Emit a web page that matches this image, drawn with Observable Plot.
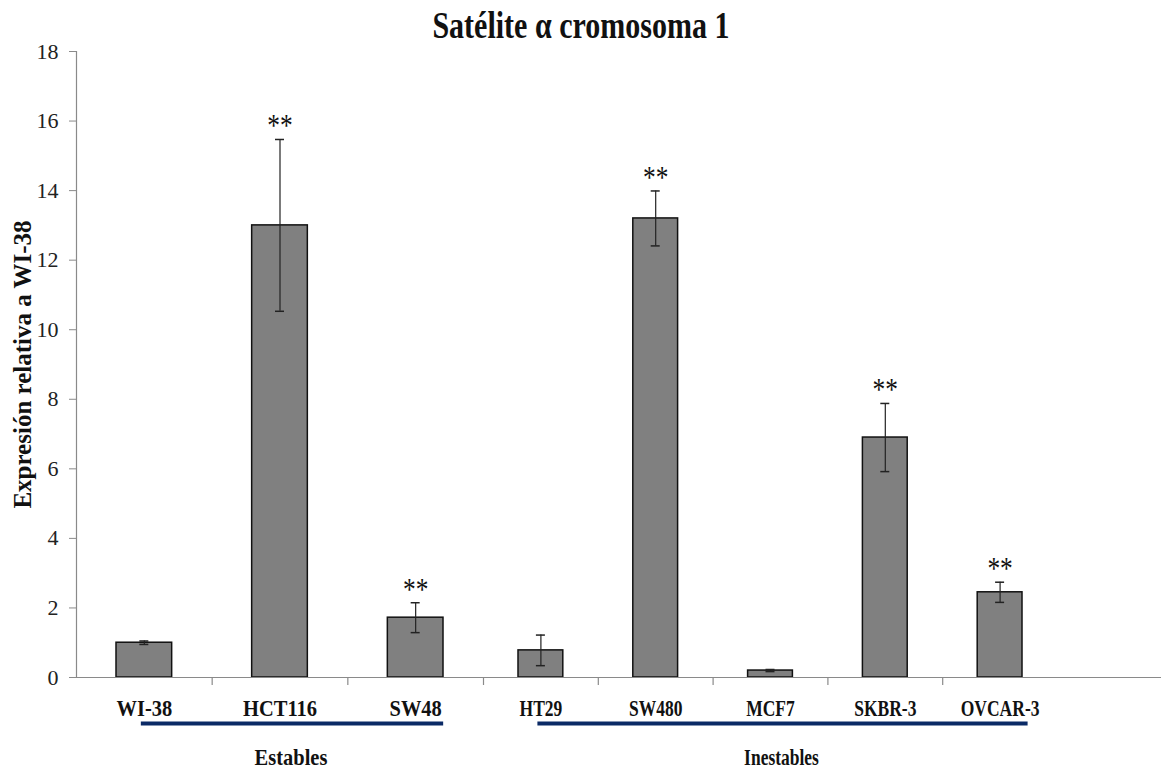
<!DOCTYPE html>
<html><head><meta charset="utf-8">
<script src="https://cdn.jsdelivr.net/npm/d3@7"></script>
<script src="https://cdn.jsdelivr.net/npm/@observablehq/plot@0.6"></script>
<style>body{margin:0;background:#fff} svg{display:block}</style>
</head><body><div id="chart"></div>
<script>
const cellLines = ["WI-38","HCT116","SW48","HT29","SW480","MCF7","SKBR-3","OVCAR-3"];
const cellGroup = ["Estables","Estables","Estables","Inestables","Inestables","Inestables","Inestables","Inestables"];
const expression = [1.0, 13.0, 1.72, 0.78, 13.2, 0.2, 6.9, 2.45];
const errors = [0.05, 2.47, 0.43, 0.44, 0.79, 0.03, 0.98, 0.29];
const significant = [false, true, true, false, true, false, true, true];
const groupNames = ["Estables","Inestables"];
const yTicks = [0,2,4,6,8,10,12,14,16,18];
const title = "Satélite α cromosoma 1";
const yLabel = "Expresión relativa a WI-38";
const starText = "**";

// each cell line occupies one slot [i, i+1] on a positional x scale
const rows = cellLines.map((c,i)=>({line:c, i, group:cellGroup[i], value:expression[i], err:errors[i], sig:significant[i]}));
const groups = groupNames.map(g => {
  const idx = rows.filter(r => r.group === g).map(r => r.i);
  return {name: g, first: d3.min(idx), last: d3.max(idx), n: idx.length};
});
const nStable = groups[0].n;

const serif = "'Liberation Serif', 'Times New Roman', serif";
const axisGray = "#8a8a8a";
const navy = "#0b2a66";
const barStyle = {fill: "#808080", stroke: "#111", strokeWidth: 1.5};

const chart = Plot.plot({
  width: 1161, height: 772,
  marginTop: 51, marginBottom: 95, marginLeft: 76, marginRight: 0,
  style: {fontFamily: serif, background: "#fff", color: "#111"},
  // the reference's slots for the first group are wider than for the second
  x: {type: "linear", domain: [0, nStable, cellLines.length], range: [76, 483, 1057], axis: null},
  y: {domain: [0, 18], axis: null},
  marks: [
    Plot.frame({anchor: "left", stroke: axisGray, strokeWidth: 1.2}),
    Plot.axisY({ticks: yTicks, tickSize: 7, tickPadding: 11, stroke: axisGray, fontSize: 22, fill: "#222", label: null, fontFamily: serif}),
    Plot.text([yLabel], {frameAnchor: "left", textAnchor: "middle", rotate: -90, dx: -54, fontSize: 25, fontWeight: "bold", fill: "#111"}),
    Plot.text([title], {frameAnchor: "top", lineAnchor: "middle", dy: -26, dx: -38, fontSize: 38, fontWeight: "bold", fill: "#111"}),
    Plot.rectY(rows.filter(d => d.group === groupNames[0]), {x1: "i", x2: d => d.i + 1, y: "value", insetLeft: 40, insetRight: 40, ...barStyle}),
    Plot.rectY(rows.filter(d => d.group === groupNames[1]), {x1: "i", x2: d => d.i + 1, y: "value", insetLeft: 35, insetRight: 35, ...barStyle}),
    Plot.ruleY([0], {stroke: axisGray, strokeWidth: 1.2}),
    Plot.ruleX(rows.slice(1), {x: "i", y1: 0, y2: -0.23, stroke: axisGray, strokeWidth: 1.2}),
    Plot.ruleX(rows, {x: d => d.i + 0.5, y1: d => d.value - d.err, y2: d => d.value + d.err, stroke: "#222", strokeWidth: 1.2}),
    Plot.ruleY(rows, {x1: d => d.i + 0.5, x2: d => d.i + 0.5, y: d => d.value + d.err, insetLeft: -4.5, insetRight: -4.5, stroke: "#222", strokeWidth: 1.5}),
    Plot.ruleY(rows, {x1: d => d.i + 0.5, x2: d => d.i + 0.5, y: d => d.value - d.err, insetLeft: -4.5, insetRight: -4.5, stroke: "#222", strokeWidth: 1.5}),
    Plot.text(rows.filter(d => d.sig), {x: d => d.i + 0.5, y: d => d.value + d.err, text: () => starText, dy: -13, lineAnchor: "middle", fontSize: 31, fill: "#111"}),
    Plot.text(rows, {x: d => d.i + 0.5, y: () => 0, text: "line", dy: 31, lineAnchor: "middle", fontSize: 23, fontWeight: "bold", fill: "#111"}),
    Plot.ruleY(groups, {x1: d => d.first + 0.5, x2: d => d.last + 0.5, y: () => 0, dy: 46, insetLeft: -3, insetRight: -28, stroke: navy, strokeWidth: 4}),
    Plot.text(groups, {x: d => (d.first + d.last + 1) / 2, y: () => 0, text: "name", dy: 80, dx: 11, lineAnchor: "middle", fontSize: 23, fontWeight: "bold", fill: "#111"})
  ]
});
document.getElementById("chart").appendChild(chart);

// the reference is horizontally compressed (more so on its right part): narrow the glyphs accordingly
const squeeze = new Map([[title, 0.79], [starText, 0.82]]);
rows.forEach(r => squeeze.set(r.line, r.group === groupNames[0] ? 0.89 : 0.76));
squeeze.set(groupNames[0], 0.89);
squeeze.set(groupNames[1], 0.76);
chart.querySelectorAll("text").forEach(t => {
  const f = squeeze.get(t.textContent);
  if (f) {
    const len = t.getComputedTextLength();
    t.setAttribute("textLength", (len * f).toFixed(1));
    t.setAttribute("lengthAdjust", "spacingAndGlyphs");
  }
});
</script>
</body></html>
